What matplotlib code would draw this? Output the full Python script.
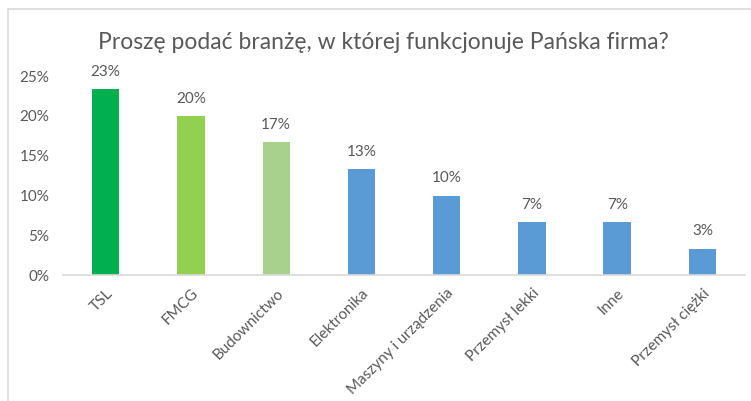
import matplotlib.pyplot as plt
from matplotlib.patches import Rectangle

# Dane
branze = ["TSL", "FMCG", "Budownictwo", "Elektronika", "Maszyny i urządzenia",
          "Przemysł lekki", "Inne", "Przemysł ciężki"]
udzial = [23.33, 20.0, 16.67, 13.33, 10.0, 6.67, 6.67, 3.33]
kolory = ["#00B050", "#92D050", "#A9D18E", "#5B9BD5", "#5B9BD5",
          "#5B9BD5", "#5B9BD5", "#5B9BD5"]
y_ticks = [0, 5, 10, 15, 20, 25]

plt.rcParams["font.family"] = ["Lato", "DejaVu Sans"]
szary = "#595959"

fig = plt.figure(figsize=(7.51, 4.01), dpi=100)
ax = fig.add_axes([0.084, 0.314, 0.908, 0.496])

x = range(len(branze))
ax.bar(x, udzial, width=0.32, color=kolory)
for xi, v in zip(x, udzial):
    ax.text(xi, v + 1.3, f"{v:.0f}%", ha="center", va="bottom",
            fontsize=11, color=szary)

ax.set_xlim(-0.5, len(branze) - 0.5)
ax.set_ylim(0, 25)
ax.set_yticks(y_ticks)
ax.set_yticklabels([f"{t}%" for t in y_ticks], fontsize=11, color=szary)
ax.set_xticks(list(x))
ax.set_xticklabels(branze, rotation=45, ha="right", rotation_mode="anchor",
                   fontsize=11, color=szary)
ax.tick_params(length=0, axis="y", pad=10)
ax.tick_params(length=0, axis="x", pad=8)
for s in ["top", "right", "left"]:
    ax.spines[s].set_visible(False)
ax.spines["bottom"].set_color("#D9D9D9")
ax.spines["bottom"].set_linewidth(1.2)

fig.text(0.51, 0.895, "Proszę podać branżę, w której funkcjonuje Pańska firma?",
         ha="center", va="center", fontsize=16.5, color=szary)

fig.patches.append(Rectangle((0.011, -0.1), 1.1, 1.077, transform=fig.transFigure,
                             fill=False, edgecolor="#D9D9D9", linewidth=1.2))

fig.savefig("out.png", dpi=100)
